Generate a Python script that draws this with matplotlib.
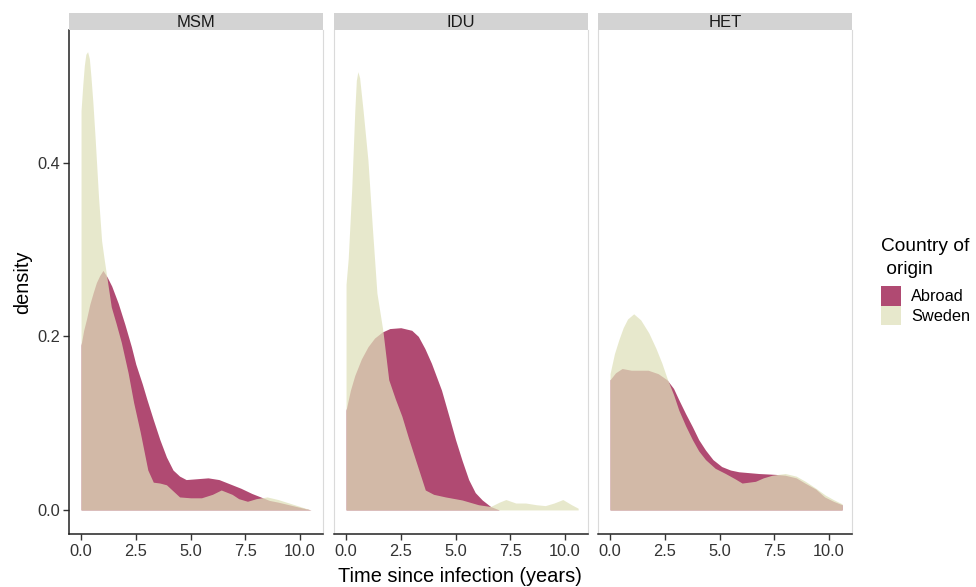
import matplotlib
matplotlib.use("Agg")
import matplotlib.pyplot as plt
from matplotlib.patches import Patch

plt.rcParams['font.family'] = ['Liberation Sans', 'DejaVu Sans']

groups = ["MSM", "IDU", "HET"]
origins = ["Abroad", "Sweden"]
fill_colors = {"Abroad": "#B04A72", "Sweden": "#DFE1BA"}
fill_alpha = {"Abroad": 1.0, "Sweden": 0.74}
x_ticks = [0.0, 2.5, 5.0, 7.5, 10.0]
x_tick_labels = ["0.0", "2.5", "5.0", "7.5", "10.0"]
y_ticks = [0.0, 0.2, 0.4]
y_tick_labels = ["0.0", "0.2", "0.4"]

# density curves, one pair of arrays per panel and origin
msm_abroad_x = [0, 0.12, 0.25, 0.4, 0.55, 0.7, 0.85, 1.0, 1.2, 1.4, 1.7, 2.0, 2.3, 2.5, 2.8,
                3.0, 3.3, 3.6, 3.9, 4.2, 4.5, 4.8, 5.3, 5.8, 6.3, 6.8, 7.3, 7.8, 8.2, 8.6,
                9.0, 9.5, 10.0, 10.5]
msm_abroad_y = [0.19, 0.207, 0.22, 0.237, 0.25, 0.262, 0.27, 0.276, 0.268, 0.258, 0.238,
                0.214, 0.188, 0.168, 0.145, 0.128, 0.104, 0.081, 0.061, 0.046, 0.039, 0.035,
                0.036, 0.037, 0.035, 0.03, 0.025, 0.019, 0.015, 0.011, 0.009, 0.006, 0.003,
                0.0]
msm_sweden_x = [0, 0.08, 0.15, 0.22, 0.3, 0.38, 0.45, 0.54, 0.64, 0.8, 0.94, 1.05, 1.15,
                1.38, 1.6, 1.84, 2.15, 2.4, 2.7, 3.05, 3.3, 3.6, 3.9, 4.2, 4.5, 5.0, 5.5,
                6.0, 6.4, 6.9, 7.2, 7.6, 8.0, 8.5, 9.0, 9.5, 10.0, 10.5]
msm_sweden_y = [0.46, 0.49, 0.512, 0.525, 0.528, 0.52, 0.50, 0.47, 0.43, 0.36, 0.31, 0.29,
                0.273, 0.234, 0.215, 0.193, 0.158, 0.124, 0.09, 0.046, 0.032, 0.031, 0.029,
                0.022, 0.015, 0.014, 0.014, 0.018, 0.023, 0.018, 0.013, 0.01, 0.013, 0.015,
                0.012, 0.008, 0.004, 0.0]

idu_abroad_x = [0, 0.2, 0.4, 0.7, 1.0, 1.3, 1.65, 2.0, 2.5, 3.0, 3.3, 3.6, 3.9, 4.36, 4.7,
                5.0, 5.3, 5.6, 5.9, 6.22, 6.6, 7.0]
idu_abroad_y = [0.115, 0.138, 0.155, 0.174, 0.188, 0.198, 0.205, 0.209, 0.21, 0.207, 0.2,
                0.186, 0.169, 0.138, 0.108, 0.081, 0.057, 0.035, 0.02, 0.0115, 0.004, 0.0]
idu_sweden_x = [0, 0.1, 0.26, 0.4, 0.47, 0.54, 0.62, 0.78, 1.0, 1.2, 1.41, 1.68, 1.95, 2.25,
                2.55, 2.85, 3.17, 3.62, 4.0, 4.54, 5.3, 6.05, 6.6, 7.0, 7.3, 7.75, 8.2, 8.7,
                9.1, 9.5, 9.9, 10.3, 10.6]
idu_sweden_y = [0.26, 0.29, 0.37, 0.46, 0.495, 0.505, 0.498, 0.46, 0.403, 0.326, 0.25, 0.207,
                0.15, 0.128, 0.108, 0.083, 0.058, 0.023, 0.018, 0.015, 0.0115, 0.006, 0.004,
                0.009, 0.012, 0.008, 0.008, 0.006, 0.005, 0.008, 0.012, 0.006, 0.002]

het_abroad_x = [0, 0.25, 0.55, 0.97, 1.4, 1.74, 2.2, 2.6, 2.9, 3.14, 3.45, 3.76, 4.05, 4.36,
                4.7, 5.1, 5.5, 5.88, 6.79, 7.55, 8.0, 8.5, 8.9, 9.4, 9.8, 10.2, 10.6]
het_abroad_y = [0.15, 0.158, 0.163, 0.161, 0.161, 0.161, 0.157, 0.15, 0.14, 0.127, 0.111,
                0.096, 0.081, 0.069, 0.058, 0.05, 0.046, 0.044, 0.042, 0.041, 0.04, 0.037,
                0.031, 0.024, 0.015, 0.01, 0.006]
het_sweden_x = [0, 0.2, 0.4, 0.6, 0.8, 1.08, 1.4, 1.77, 2.1, 2.37, 2.6, 2.9, 3.14, 3.45, 3.76,
                4.05, 4.36, 4.8, 5.27, 5.7, 6.03, 6.64, 7.0, 7.4, 8.0, 8.5, 8.92, 9.4, 9.84,
                10.2, 10.6]
het_sweden_y = [0.157, 0.18, 0.196, 0.21, 0.22, 0.226, 0.219, 0.204, 0.186, 0.169, 0.152,
                0.133, 0.115, 0.097, 0.081, 0.068, 0.058, 0.048, 0.042, 0.036, 0.031, 0.033,
                0.037, 0.04, 0.042, 0.039, 0.033, 0.025, 0.017, 0.012, 0.007]

curves = {
    "MSM": {"Abroad": (msm_abroad_x, msm_abroad_y), "Sweden": (msm_sweden_x, msm_sweden_y)},
    "IDU": {"Abroad": (idu_abroad_x, idu_abroad_y), "Sweden": (idu_sweden_x, idu_sweden_y)},
    "HET": {"Abroad": (het_abroad_x, het_abroad_y), "Sweden": (het_sweden_x, het_sweden_y)},
}

W, H = 976, 587
fig = plt.figure(figsize=(W / 100, H / 100), dpi=100)

panel_left = [69, 334, 598]
panel_w = 254
bottom, top = 534, 30

for i, g in enumerate(groups):
    ax = fig.add_axes([panel_left[i] / W, 1 - bottom / H, panel_w / W, (bottom - top) / H])
    for o in origins:
        xs, ys = curves[g][o]
        ax.fill_between(xs, 0, ys, color=fill_colors[o], alpha=fill_alpha[o], linewidth=0)
    ax.set_xlim(-0.55, 11.05)
    ax.set_ylim(-0.0277, 0.553)
    ax.set_xticks(x_ticks)
    ax.set_xticklabels(x_tick_labels)
    ax.tick_params(axis='x', length=4, width=1, color='#333333', labelsize=11.8,
                   labelcolor='#333333', pad=3)
    ax.spines['top'].set_visible(False)
    ax.spines['right'].set_color('#DADADA')
    ax.spines['bottom'].set_color('#222222')
    ax.spines['bottom'].set_linewidth(1.1)
    if i == 0:
        ax.set_yticks(y_ticks)
        ax.set_yticklabels(y_tick_labels)
        ax.tick_params(axis='y', length=4, width=1, color='#333333', labelsize=11.8,
                       labelcolor='#333333', pad=2.5)
        ax.spines['left'].set_color('#222222')
        ax.spines['left'].set_linewidth(1.1)
    else:
        ax.set_yticks([])
        ax.spines['left'].set_color('#DADADA')

    strip = fig.add_axes([panel_left[i] / W, 1 - 30 / H, panel_w / W, 17 / H])
    strip.set_facecolor('#D3D3D3')
    strip.set_xticks([])
    strip.set_yticks([])
    for s in strip.spines.values():
        s.set_visible(False)
    strip.text(0.5, 0.45, g, ha='center', va='center', fontsize=12, color='#1A1A1A',
               transform=strip.transAxes)

fig.text(23 / W, 1 - 282 / H, "density", rotation=90, ha='center', va='center',
         fontsize=14.4, color='black')
fig.text(460 / W, 1 - 576 / H, "Time since infection (years)", ha='center', va='center',
         fontsize=14.4, color='black')

handles = [Patch(facecolor=fill_colors[o], alpha=fill_alpha[o], edgecolor='none') for o in origins]
leg = fig.legend(handles, origins, loc='upper left', bbox_to_anchor=(881 / W, 1 - 238 / H),
                 frameon=False, fontsize=11.8, title="Country of\n origin", title_fontsize=13.8,
                 handlelength=1.22, handleheight=1.45, labelspacing=0.0, handletextpad=0.6,
                 borderpad=0.0, borderaxespad=0.0)
leg.get_title().set_linespacing(1.45)
leg._legend_box.align = "left"
leg._legend_box.sep = 6

fig.savefig("out.png", dpi=100)
